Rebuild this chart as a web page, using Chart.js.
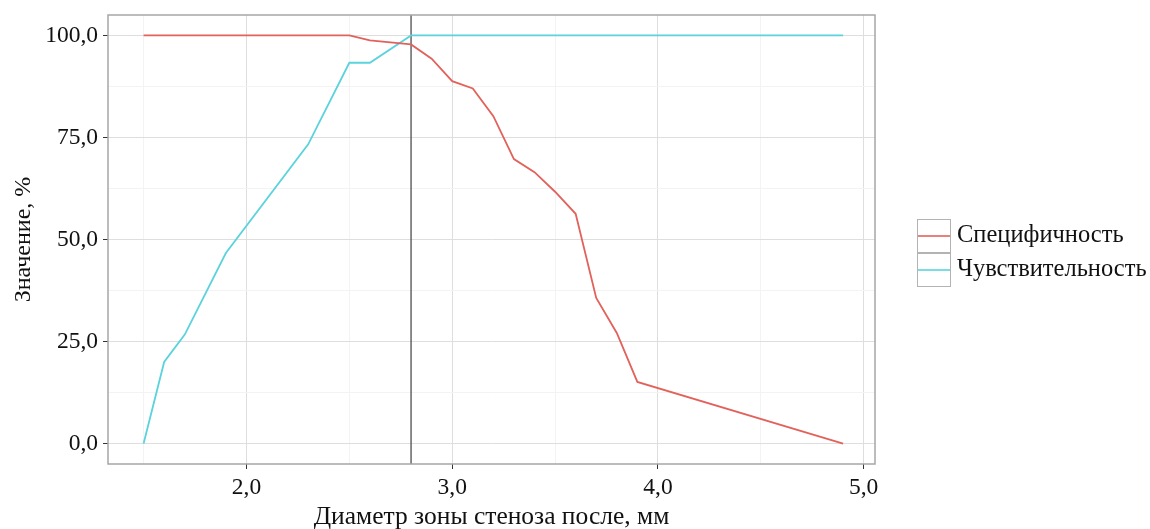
<!DOCTYPE html>
<html>
<head>
  <meta charset="UTF-8">
  <title>Чувствительность и специфичность</title>
  <script src="https://cdn.jsdelivr.net/npm/chart.js"></script>
  <style>
    body { margin: 0; background: #fff; }
    canvas { display: block; }
  </style>
</head>
<body>
  <canvas id="chart" width="1150" height="529"></canvas>

  <script>
    // значения
    const specX = [1.5, 2.5, 2.6, 2.7, 2.8, 2.9, 3.0, 3.1, 3.2, 3.3, 3.4, 3.5, 3.6, 3.7, 3.8, 3.9, 4.9];
    const specY = [100, 100, 98.8, 98.3, 97.8, 94.3, 88.8, 87.0, 80.2, 69.7, 66.5, 61.7, 56.3, 35.7, 27.1, 15.1, 0];
    const sensX = [1.5, 1.6, 1.7, 1.9, 2.3, 2.5, 2.6, 2.8, 4.9];
    const sensY = [0, 20.0, 26.7, 46.7, 73.3, 93.3, 93.3, 100, 100];
    const cutoff = 2.8;
    const seriesNames = ['Специфичность', 'Чувствительность'];
    const xTicks = [2, 3, 4, 5];
    const yTicks = [0, 25, 50, 75, 100];
    const xRange = [1.327, 5.055];
    const yRange = [-5, 105];

    const colors = ['#e2625b', '#5bd3dc'];
    const fontFam = '"Liberation Serif", "DejaVu Serif", serif';
    const fmt = v => v.toFixed(1).replace('.', ',');

    // мажорные + минорные деления (середины)
    function withMinor(major, lo, hi) {
      const step = major[1] - major[0];
      const out = [];
      for (let v = major[0] - step / 2; v <= hi; v += step / 2) {
        if (v >= lo) out.push(v);
      }
      return out;
    }
    const isMajor = (list, v) => list.some(t => Math.abs(t - v) < 1e-6);

    const pts = (xs, ys) => xs.map((x, i) => ({ x, y: ys[i] }));

    const panelAndLegend = {
      id: 'panelAndLegend',
      afterDatasetsDraw(chart) {
        const { ctx, chartArea: a } = chart;
        ctx.save();
        ctx.strokeStyle = '#a6a6a6';
        ctx.lineWidth = 1.5;
        ctx.strokeRect(a.left, a.top, a.right - a.left, a.bottom - a.top);
        ctx.restore();
      },
      afterDraw(chart) {
        const ctx = chart.ctx;
        const kx = 917, ky = 219, ks = 34;
        ctx.save();
        ctx.font = '24.5px ' + fontFam;
        ctx.textBaseline = 'middle';
        ctx.fillStyle = '#111';
        seriesNames.forEach((name, i) => {
          const y0 = ky + i * ks;
          ctx.strokeStyle = '#b3b3b3';
          ctx.lineWidth = 1;
          ctx.strokeRect(kx + 0.5, y0 + 0.5, ks - 1, ks - 1);
          ctx.strokeStyle = colors[i];
          ctx.lineWidth = 1.6;
          ctx.beginPath();
          ctx.moveTo(kx + 1, y0 + ks / 2);
          ctx.lineTo(kx + ks - 1, y0 + ks / 2);
          ctx.stroke();
          ctx.fillText(name, kx + ks + 6, y0 + ks / 2);
        });
        ctx.restore();
      }
    };

    new Chart(document.getElementById('chart'), {
      type: 'line',
      data: {
        datasets: [
          { label: seriesNames[0], data: pts(specX, specY), borderColor: colors[0], borderWidth: 1.8 },
          { label: seriesNames[1], data: pts(sensX, sensY), borderColor: colors[1], borderWidth: 1.8 },
          { label: 'cutoff', data: [{ x: cutoff, y: yRange[0] }, { x: cutoff, y: yRange[1] }],
            borderColor: '#4d4d4d', borderWidth: 1.3 }
        ]
      },
      options: {
        responsive: false,
        devicePixelRatio: 1,
        animation: false,
        elements: { point: { radius: 0 }, line: { tension: 0 } },
        layout: { padding: { top: 15, right: 275, left: 0, bottom: 0 } },
        plugins: { legend: { display: false }, tooltip: { enabled: false } },
        scales: {
          x: {
            type: 'linear',
            min: xRange[0], max: xRange[1],
            afterBuildTicks: s => { s.ticks = withMinor(xTicks, xRange[0], xRange[1]).map(v => ({ value: v })); },
            afterFit: s => { s.height = 65; s.paddingLeft = 0; s.paddingRight = 0; },
            ticks: {
              autoSkip: false, maxRotation: 0, padding: 5,
              color: '#111', font: { family: fontFam, size: 23.5 },
              callback: v => isMajor(xTicks, v) ? fmt(v) : ''
            },
            grid: {
              color: c => isMajor(xTicks, c.tick.value) ? '#dedede' : '#f3f3f3',
              lineWidth: 1,
              tickLength: 5,
              tickColor: c => isMajor(xTicks, c.tick.value) ? '#333' : 'rgba(0,0,0,0)'
            },
            border: { display: false },
            title: { display: true, text: 'Диаметр зоны стеноза после, мм', color: '#111',
                     font: { family: fontFam, size: 25.5, lineHeight: 1 }, padding: { top: 0, bottom: -1 } }
          },
          y: {
            type: 'linear',
            min: yRange[0], max: yRange[1],
            afterBuildTicks: s => { s.ticks = withMinor(yTicks, yRange[0], yRange[1]).map(v => ({ value: v })); },
            afterFit: s => { s.width = 108; s.paddingTop = 0; s.paddingBottom = 0; },
            ticks: {
              autoSkip: false, padding: 5,
              color: '#111', font: { family: fontFam, size: 23.5 },
              callback: v => isMajor(yTicks, v) ? fmt(v) : ''
            },
            grid: {
              color: c => isMajor(yTicks, c.tick.value) ? '#dedede' : '#f3f3f3',
              lineWidth: 1,
              tickLength: 5,
              tickColor: c => isMajor(yTicks, c.tick.value) ? '#333' : 'rgba(0,0,0,0)'
            },
            border: { display: false },
            title: { display: true, text: 'Значение, %', color: '#111',
                     font: { family: fontFam, size: 24 }, padding: { top: 9, bottom: 0 } }
          }
        }
      },
      plugins: [panelAndLegend]
    });
  </script>
</body>
</html>
